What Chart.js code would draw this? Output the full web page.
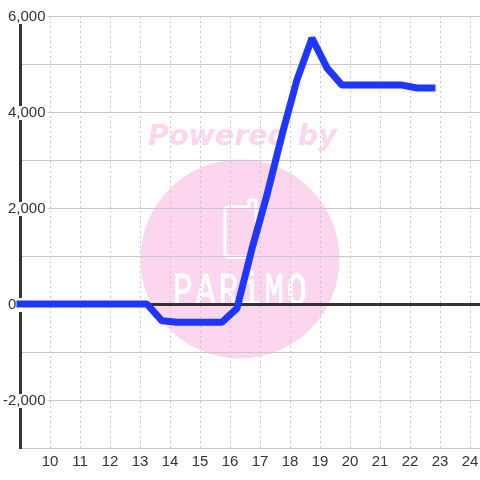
<!DOCTYPE html>
<html>
<head>
<meta charset="utf-8">
<style>
  html, body { margin: 0; padding: 0; background: #fff; }
  canvas { display: block; }
</style>
<script src="https://cdn.jsdelivr.net/npm/chart.js@4"></script>
</head>
<body>
<canvas id="chart" width="480" height="480"></canvas>
<script>
// Values
const hours = [9, 9.73, 10.23, 10.73, 11.23, 11.73, 12.23, 12.73, 13.23, 13.73, 14.23, 14.73, 15.23, 15.73, 16.23, 16.73, 17.23, 17.73, 18.23, 18.73, 19.23, 19.73, 20.23, 20.73, 21.23, 21.73, 22.23, 22.73];
const balance = [0, 0, 0, 0, 0, 0, 0, 0, 0, -350, -380, -380, -380, -380, -90, 1150, 2270, 3520, 4670, 5540, 4920, 4560, 4560, 4560, 4560, 4560, 4500, 4500];
const xTicks = [10, 11, 12, 13, 14, 15, 16, 17, 18, 19, 20, 21, 22, 23, 24];
const yTicks = [-3000, -2000, -1000, 0, 1000, 2000, 3000, 4000, 5000, 6000];
const yTickLabels = ['', '-2,000', '', '0', '', '2,000', '', '4,000', '', '6,000'];

// Watermark sits behind the grid
const watermark = {
    id: 'watermark',
    beforeDraw(chart) {
        const ctx = chart.ctx;
        ctx.save();
        ctx.fillStyle = '#fbd6ee';
        ctx.beginPath();
        ctx.arc(240, 259, 99.5, 0, Math.PI * 2);
        ctx.fill();

        ctx.font = 'italic bold 28.5px "DejaVu Sans"';
        ctx.textAlign = 'left';
        ctx.textBaseline = 'alphabetic';
        ctx.fillText('Powered by', 148, 145);

        // logo outline
        ctx.strokeStyle = '#fff';
        ctx.lineWidth = 3;
        ctx.lineJoin = 'round';
        ctx.beginPath();
        ctx.moveTo(249, 207);
        ctx.lineTo(229, 207);
        ctx.quadraticCurveTo(225, 207, 225, 211);
        ctx.lineTo(225, 253);
        ctx.quadraticCurveTo(225, 257, 229, 257);
        ctx.lineTo(252, 257);
        ctx.moveTo(249, 207);
        ctx.lineTo(249, 201);
        ctx.quadraticCurveTo(252.5, 198, 256, 201);
        ctx.lineTo(256, 225);
        ctx.stroke();

        // logo name, tall thin letters
        ctx.fillStyle = '#fff';
        ctx.translate(173, 305);
        ctx.scale(1, 1.4);
        ctx.font = '33px "Liberation Mono"';
        ctx.letterSpacing = '3px';
        ctx.lineWidth = 0.6;
        ctx.fillText('PARiMO', 0, 0);
        ctx.strokeText('PARiMO', 0, 0);
        ctx.restore();
    }
};

new Chart(document.getElementById('chart'), {
    type: 'line',
    data: {
        datasets: [{
            data: hours.map((h, i) => ({ x: h, y: balance[i] })),
            borderColor: '#1f36ff',
            borderWidth: 7,
            borderCapStyle: 'square',
            borderJoinStyle: 'bevel',
            tension: 0,
            pointRadius: 0,
            clip: false
        }]
    },
    options: {
        responsive: false,
        animation: false,
        layout: { padding: { top: 16 } },
        plugins: { legend: { display: false }, tooltip: { enabled: false } },
        scales: {
            x: {
                type: 'linear',
                min: 9,
                max: 24.33,
                afterBuildTicks: scale => { scale.ticks = xTicks.map(v => ({ value: v })); },
                afterFit: scale => { scale.height = 32; scale.paddingLeft = 0; scale.paddingRight = 0; },
                grid: { color: '#c8c8c8', lineWidth: 1, tickLength: 0, borderDash: [2, 3] },
                border: { color: '#c8c8c8', width: 1, dash: [2, 3] },
                ticks: {
                    autoSkip: false,
                    maxRotation: 0,
                    padding: 5,
                    color: '#333',
                    font: { family: '"Liberation Sans"', size: 15 },
                    callback: v => String(v)
                }
            },
            y: {
                min: -3000,
                max: 6000,
                afterBuildTicks: scale => { scale.ticks = yTicks.map(v => ({ value: v })); },
                afterFit: scale => { scale.width = 20; scale.paddingTop = 0; scale.paddingBottom = 0; },
                grid: {
                    color: c => c.tick && c.tick.value === 0 ? '#333' : '#c8c8c8',
                    lineWidth: c => c.tick && c.tick.value === 0 ? 3 : 1,
                    tickLength: 0
                },
                border: { color: '#333', width: 3 },
                ticks: {
                    mirror: true,
                    crossAlign: 'far',
                    padding: -17,
                    labelOffset: 1,
                    color: '#333',
                    font: { family: '"Liberation Sans"', size: 15 },
                    showLabelBackdrop: c => c.index % 2 === 1,
                    backdropColor: '#fff',
                    backdropPadding: { top: -2, bottom: -2, left: 2, right: 2 },
                    // the zero label sits further left than the others
                    callback: (v, i) => yTickLabels[i] === '0' ? '0'.padEnd(8, ' ') : yTickLabels[i]
                }
            }
        }
    },
    plugins: [watermark]
});
</script>
</body>
</html>
